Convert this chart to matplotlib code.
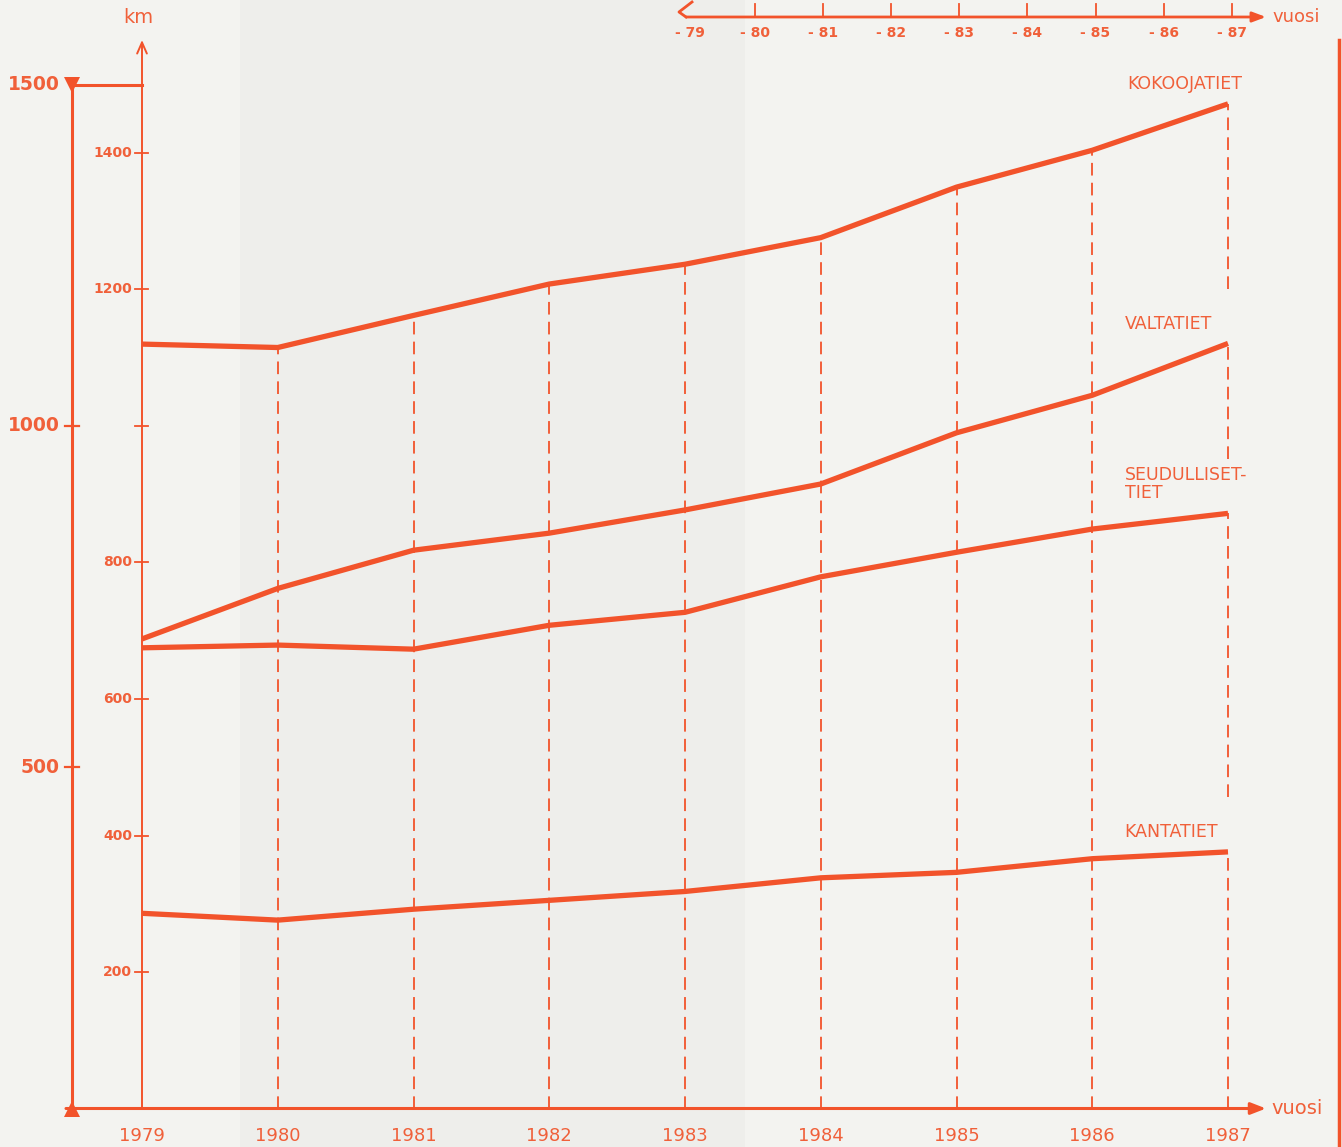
import numpy as np
import matplotlib.pyplot as plt

# data (km per year)
years = [1979, 1980, 1981, 1982, 1983, 1984, 1985, 1986, 1987]
kokoojatiet = [1120, 1115, 1162, 1208, 1237, 1276, 1350, 1404, 1472]
valtatiet = [688, 762, 818, 843, 877, 915, 990, 1045, 1121]
seudulliset = [675, 679, 673, 708, 727, 779, 815, 849, 872]
kantatiet = [286, 276, 292, 305, 318, 338, 346, 366, 376]

inner_ticks = [200, 400, 600, 800, 1000, 1200, 1400]
inner_labels = ['200', '400', '600', '800', '', '1200', '1400']
outer_ticks = [500, 1000, 1500]
top_years = [79, 80, 81, 82, 83, 84, 85, 86, 87]

series = [kokoojatiet, valtatiet, seudulliset, kantatiet]
names = ['KOKOOJATIET', 'VALTATIET', 'SEUDULLISET-\nTIET', 'KANTATIET']

RED = '#f2532b'
TXT = '#f0603a'
BG = '#f3f3f0'

W, H = 1342, 1147
PX_YEAR = 135.75      # pixels per year
PX_KM = 0.6825        # pixels per km
X0_PX, Y0_PX = 142, 1108.5


def px(x, y):
    # pixel (from top-left) -> data coords
    return 1979 + (x - X0_PX) / PX_YEAR, (Y0_PX - y) / PX_KM


def main():
    fig = plt.figure(figsize=(W / 100, H / 100), dpi=100, facecolor=BG)
    ax = fig.add_axes([0, 0, 1, 1])
    ax.set_facecolor(BG)
    ax.axis('off')
    xl, yt = px(0, 0)
    xr, yb = px(W, H)
    ax.set_xlim(xl, xr)
    ax.set_ylim(yb, yt)

    # slightly greyer paper band
    bx0, _ = px(240, 0)
    bx1, _ = px(745, 0)
    ax.axvspan(bx0, bx1, color='#eeeeeb', zorder=0, lw=0)

    # dashed year lines from top curve down
    dash = dict(color=RED, lw=1.3, dashes=(7, 4), zorder=2)
    for i, yr in enumerate(years[1:-1], start=1):
        ax.plot([yr, yr], [0, kokoojatiet[i]], **dash)
    # last year: gaps under the labels
    gap = 80
    last = [s[-1] for s in series]
    for j in range(4):
        bottom = last[j + 1] + gap if j < 3 else 0
        ax.plot([years[-1]] * 2, [bottom, last[j]], **dash)

    # series lines
    for s in series:
        ax.plot(years, s, color=RED, lw=3.8, solid_capstyle='butt',
                solid_joinstyle='miter', zorder=4)

    # series labels
    lab_px = [(1127, 84), (1125, 324), (1125, 484), (1124, 832)]
    for name, (lx, ly) in zip(names, lab_px):
        x, y = px(lx, ly)
        ax.text(x, y, name, color=TXT, fontsize=12.5, ha='left', va='center',
                linespacing=0.95)

    # x axis with arrow
    xa0, _ = px(66, 0)
    xa1, _ = px(1266, 0)
    ax.annotate('', xy=(xa1, 0), xytext=(xa0, 0),
                arrowprops=dict(arrowstyle='-|>,head_length=0.9,head_width=0.35',
                                color=RED, lw=2.2, shrinkA=0, shrinkB=0))
    vx, _ = px(1271, 0)
    ax.text(vx, 0, 'vuosi', color=TXT, fontsize=14, ha='left', va='center')
    _, ly = px(0, 1136)
    for yr in years:
        ax.text(yr, ly, str(yr), color=TXT, fontsize=13, ha='center',
                va='center')

    # inner y axis
    _, ytop = px(0, 40)
    ax.annotate('', xy=(1979, ytop), xytext=(1979, 0),
                arrowprops=dict(arrowstyle='->,head_length=0.8,head_width=0.35',
                                color=RED, lw=1.4, shrinkA=0, shrinkB=0))
    kx, ky = px(138, 18)
    ax.text(kx, ky, 'km', color=TXT, fontsize=14, ha='center', va='center')
    t0, _ = px(135, 0)
    t1, _ = px(148, 0)
    lx, _ = px(132, 0)
    for v, lab in zip(inner_ticks, inner_labels):
        ax.plot([t0, t1], [v, v], color=RED, lw=1.3)
        ax.text(lx, v, lab, color=TXT, fontsize=10, fontweight='bold',
                ha='right', va='center')

    # outer y axis
    ox, _ = px(72, 0)
    ax.plot([ox, ox], [0, 1500], color=RED, lw=2.2, zorder=3)
    ax.plot([ox, 1979], [1500, 1500], color=RED, lw=2.2, zorder=3)
    ax.plot([ox], [1500], marker='v', ms=11, color=RED, zorder=5,
            markeredgewidth=0)
    ax.plot([ox], [0], marker='^', ms=11, color=RED, zorder=5,
            markeredgewidth=0)
    o0, _ = px(65, 0)
    o1, _ = px(79, 0)
    olx, _ = px(60, 0)
    for v in outer_ticks:
        if v != 1500:
            ax.plot([o0, o1], [v, v], color=RED, lw=1.6)
        ax.text(olx, v, str(v), color=TXT, fontsize=13.5, fontweight='bold',
                ha='right', va='center')

    # top secondary year axis (broken start)
    tick_px = 755 + 68.1 * (np.array(top_years) - 80)
    tick_x = [px(t, 0)[0] for t in tick_px]
    _, ty = px(0, 17)
    _, ty_up = px(0, 4)
    _, ty_lab = px(0, 33)
    b1 = px(692, 2)
    b2 = px(679, 12)
    b3 = px(686, 17)
    ax.plot([b1[0], b2[0], b3[0]], [b1[1], b2[1], b3[1]], color=RED, lw=2,
            solid_joinstyle='round')
    te, _ = px(1266, 0)
    ax.annotate('', xy=(te, ty), xytext=(b3[0], ty),
                arrowprops=dict(arrowstyle='-|>,head_length=0.8,head_width=0.3',
                                color=RED, lw=2, shrinkA=0, shrinkB=0))
    for t in tick_x[1:]:
        ax.plot([t, t], [ty, ty_up], color=RED, lw=1.3)
    lab_x = [px(690, 0)[0]] + tick_x[1:]
    for t, yy in zip(lab_x, top_years):
        ax.text(t, ty_lab, '- %d' % yy, color=TXT, fontsize=10,
                fontweight='bold', ha='center', va='center')
    tvx, _ = px(1272, 0)
    ax.text(tvx, ty, 'vuosi', color=TXT, fontsize=13, ha='left', va='center')

    # right edge line of the printed page
    rx, _ = px(1339, 0)
    _, r0 = px(0, 40)
    ax.plot([rx, rx], [yb, r0], color=RED, lw=2.5)

    fig.savefig('out.png', dpi=100, facecolor=BG)


if __name__ == "__main__":
    main()
